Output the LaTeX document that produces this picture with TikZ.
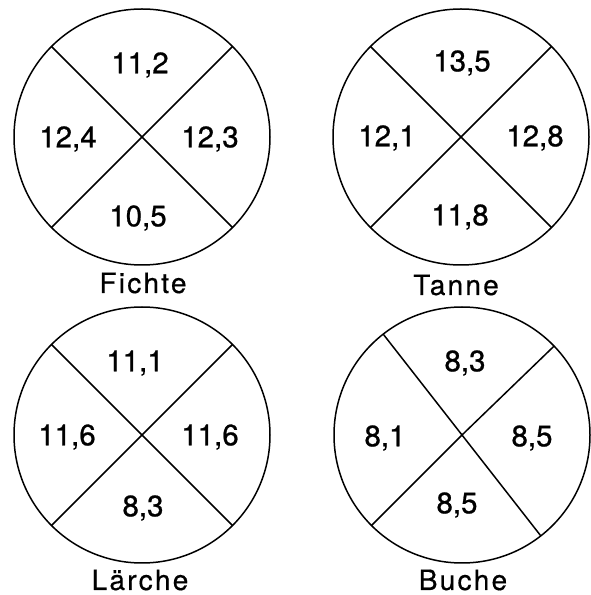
\documentclass[tikz,border=0pt]{standalone}
\usepackage{fontspec}
\setmainfont{TeX Gyre Heros}
\newfontfamily\numfont[FakeBold=0.8]{TeX Gyre Heros}
\newfontfamily\woodfont[LetterSpace=8,FakeBold=0.5]{TeX Gyre Heros}
\usetikzlibrary{positioning}
\tikzset{
  num/.style={font=\numfont\fontsize{29.5}{32}\selectfont,inner sep=0pt},
  wood/.style={font=\woodfont\fontsize{28}{30}\selectfont,inner sep=0pt},
  ring/.style={line width=1.5pt},
}
\begin{document}
\begin{tikzpicture}[x=1pt,y=1pt]
  \useasboundingbox (0,0) rectangle (590,595);
  % Fichte (top left)
  \coordinate (fi) at (142,458);
  \draw[ring] (fi) circle [radius=128pt];
  \draw[ring] (fi) -- +(45:128) (fi) -- +(135:128) (fi) -- +(225:128) (fi) -- +(315:128);
  \node[num] (fi-t) at (140,530){11,2};
  \node[num] (fi-l) at (68,456){12,4};
  \node[num] (fi-r) at (210,456){12,3};
  \node[num] (fi-b) at (138,377){10,5};
  \node[wood] (fi-n) at (143,312){Fichte};
  % Tanne (top right)
  \coordinate (ta) at (461,458);
  \draw[ring] (ta) circle [radius=128pt];
  \draw[ring] (ta) -- +(45:128) (ta) -- +(135:128) (ta) -- +(225:128) (ta) -- +(315:128);
  \node[num] (ta-t) at (462,532){13,5};
  \node[num] (ta-l) at (387,457){12,1};
  \node[num] (ta-r) at (535,457){12,8};
  \node[num] (ta-b) at (460,378){11,8};
  \node[wood] (ta-n) at (456,310){Tanne};
  % Laerche (bottom left)
  \coordinate (la) at (142,160);
  \draw[ring] (la) circle [radius=128pt];
  \draw[ring] (la) -- +(45:128) (la) -- +(135:128) (la) -- +(225:128) (la) -- +(315:128);
  \node[num] (la-t) at (135,232){11,1};
  \node[num] (la-l) at (67,158){11,6};
  \node[num] (la-r) at (210,158){11,6};
  \node[num] (la-b) at (143,87){8,3};
  \node[wood] (la-n) at (140,15){Lärche};
  % Buche (bottom right), one cut tilted
  \coordinate (bu) at (462,160);
  \draw[ring] (bu) circle [radius=128pt];
  \draw[ring] (bu) -- +(44:128) (bu) -- +(128:128) (bu) -- +(225:128) (bu) -- +(308:128);
  \node[num] (bu-t) at (465,232){8,3};
  \node[num] (bu-l) at (385,157){8,1};
  \node[num] (bu-r) at (532,157){8,5};
  \node[num] (bu-b) at (457,90){8,5};
  \node[wood] (bu-n) at (463,15){Buche};
\end{tikzpicture}
\end{document}
